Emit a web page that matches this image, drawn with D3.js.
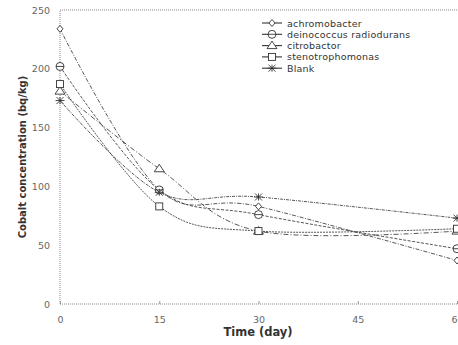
<!DOCTYPE html>
<html><head><meta charset="utf-8">
<script src="https://cdn.jsdelivr.net/npm/d3@7"></script>
<style>html,body{margin:0;padding:0;background:#fff;overflow:hidden}</style>
</head><body>
<svg id="c" width="458" height="345"></svg>
<script>
const days = [0, 15, 30, 60];
const xTicks = [0, 15, 30, 45, 60];
const yTicks = [0, 50, 100, 150, 200, 250];
const seriesNames = ["achromobacter", "deinococcus radiodurans", "citrobactor", "stenotrophomonas", "Blank"];
const achromobacter = [234, 97, 83, 37];
const deinococcus = [202, 97, 76, 47];
const citrobactor = [181, 115, 62, 62];
const stenotrophomonas = [187, 83, 62, 64];
const blank = [173, 95, 91, 73];
const seriesValues = [achromobacter, deinococcus, citrobactor, stenotrophomonas, blank];
const markers = ["diamond", "circle", "triangle", "square", "star"];
const dashes = ["4,1.5,1,1.5", "3,1.5", "5,2,1,2", "2,1", "3,1,1,1"];

const svg = d3.select("#c");
const x = d3.scaleLinear().domain([0, 60]).range([60, 457]);
const y = d3.scaleLinear().domain([0, 250]).range([304, 10]);
const grey = "#666";

// frame (dotted)
svg.append("line").attr("x1",60).attr("x2",458).attr("y1",y(250)).attr("y2",y(250)).attr("stroke","#888").attr("stroke-dasharray","1,1").attr("stroke-width",1);
svg.append("line").attr("x1",60).attr("x2",458).attr("y1",y(0)).attr("y2",y(0)).attr("stroke","#888").attr("stroke-dasharray","1,1").attr("stroke-width",1);
svg.append("line").attr("x1",60).attr("x2",60).attr("y1",y(0)).attr("y2",y(250)).attr("stroke","#888").attr("stroke-dasharray","1,1").attr("stroke-width",1);

const tickFont = "Verdana, DejaVu Sans, sans-serif";
const xa = d3.axisBottom(x).tickValues(xTicks).tickSize(3).tickPadding(9).tickFormat(d3.format("d"));
const gx = svg.append("g").attr("transform",`translate(0,${y(0)})`).call(xa);
gx.select(".domain").remove();
gx.selectAll(".tick line").attr("stroke","#999").attr("transform","translate(0,-3)");
gx.selectAll("text").attr("fill",grey).style("font-family",tickFont).style("font-size","9.5px");

const ya = d3.axisLeft(y).tickValues(yTicks).tickSize(0).tickPadding(10).tickFormat(d3.format("d"));
const gy = svg.append("g").attr("transform",`translate(60,0)`).call(ya);
gy.select(".domain").remove();
gy.selectAll("text").attr("fill",grey).style("font-family",tickFont).style("font-size","9.5px");

svg.append("text").attr("x",258).attr("y",336).attr("text-anchor","middle")
  .style("font-family","Verdana, DejaVu Sans, sans-serif").style("font-weight","bold").style("font-size","11.5px").attr("fill","#333")
  .text("Time (day)");
svg.append("text").attr("transform","translate(26,157) rotate(-90)").attr("text-anchor","middle")
  .style("font-family","Verdana, DejaVu Sans, sans-serif").style("font-weight","bold").style("font-size","10px").attr("fill","#333")
  .text("Cobalt concentration (bq/kg)");

const line = d3.line().x((d,i)=>x(days[i])).y(d=>y(d)).curve(d3.curveCardinal.tension(0));

function drawMarker(g, type, cx, cy) {
  const s = "#333";
  if (type === "diamond") {
    g.append("path").attr("d",`M${cx},${cy-3.5}L${cx+3},${cy}L${cx},${cy+3.5}L${cx-3},${cy}Z`).attr("fill","#fff").attr("stroke",s).attr("stroke-width",0.9);
  } else if (type === "circle") {
    g.append("circle").attr("cx",cx).attr("cy",cy).attr("r",4).attr("fill","#fff").attr("stroke",s).attr("stroke-width",0.9);
    g.append("line").attr("x1",cx-4).attr("x2",cx+4).attr("y1",cy).attr("y2",cy).attr("stroke",s).attr("stroke-width",0.9);
  } else if (type === "triangle") {
    g.append("path").attr("d",`M${cx},${cy-4.5}L${cx+5},${cy+3}L${cx-5},${cy+3}Z`).attr("fill","#fff").attr("stroke",s).attr("stroke-width",0.9);
  } else if (type === "square") {
    g.append("rect").attr("x",cx-3.5).attr("y",cy-3.5).attr("width",7).attr("height",7).attr("fill","#fff").attr("stroke",s).attr("stroke-width",0.9);
  } else {
    g.append("path").attr("d",`M${cx-3.5},${cy-3.5}L${cx+3.5},${cy+3.5}M${cx-3.5},${cy+3.5}L${cx+3.5},${cy-3.5}M${cx-4.5},${cy}L${cx+4.5},${cy}M${cx},${cy-3.5}L${cx},${cy+3.5}`).attr("stroke",s).attr("stroke-width",0.9).attr("fill","none");
  }
}

seriesValues.forEach((vals, k) => {
  svg.append("path").datum(vals).attr("d", line).attr("fill","none").attr("stroke","#444")
    .attr("stroke-width",0.9).attr("stroke-dasharray",dashes[k]);
});
seriesValues.forEach((vals, k) => {
  const g = svg.append("g");
  vals.forEach((v, i) => drawMarker(g, markers[k], x(days[i]), y(v)));
});

const lg = svg.append("g");
seriesNames.forEach((n, k) => {
  const yy = 23 + k * 11.3;
  lg.append("line").attr("x1",262).attr("x2",282).attr("y1",yy).attr("y2",yy).attr("stroke","#333").attr("stroke-width",1.1);
  drawMarker(lg, markers[k], 272, yy);
  lg.append("text").attr("x",287).attr("y",yy+3.5).text(n)
    .style("font-family",tickFont).style("font-size","9.5px").style("letter-spacing","0.2px").attr("fill","#333");
});
</script>
</body></html>
